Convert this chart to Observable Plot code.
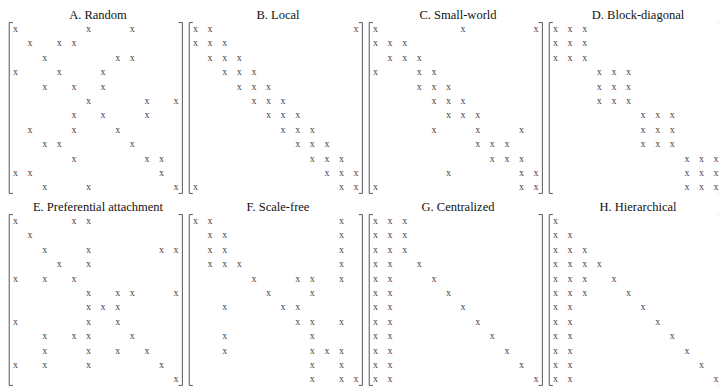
<!DOCTYPE html>
<html>
<head>
<meta charset="utf-8">
<script src="https://cdn.jsdelivr.net/npm/d3@7"></script>
<script src="https://cdn.jsdelivr.net/npm/@observablehq/plot@0.6"></script>
<style>
  html, body { margin: 0; padding: 0; background: #fff; }
  svg { display: block; }
  svg, svg text, svg g { font-family: "Liberation Serif", "Times New Roman", "DejaVu Serif", serif !important; }
</style>
</head>
<body>
<div id="chart"></div>
<script>
// Panel titles
const titles = [
  "A. Random", "B. Local", "C. Small-world", "D. Block-diagonal",
  "E. Preferential attachment", "F. Scale-free", "G. Centralized", "H. Hierarchical"
];

// For each panel: one list per matrix row, giving the columns that hold an "x"
const random = [[0,5,8],[1,3,4],[2,7,8],[0,3,6],[2,4,6],[5,9,11],[4,6,9],[1,4,7],[2,3,8],[4,9,10],[0,1,10],[2,5,11]];
const local = [[0,1,11],[0,1,2],[1,2,3],[2,3,4],[3,4,5],[4,5,6],[5,6,7],[6,7,8],[7,8,9],[8,9,10],[9,10,11],[0,10,11]];
const smallWorld = [[0,6,11],[0,1,2],[1,2,3],[0,3,4],[3,4,5],[4,5,6],[5,6,7],[4,7,10],[7,8,9],[8,9,10],[5,10,11],[0,10,11]];
const blockDiagonal = [[0,1,2],[0,1,2],[0,1,2],[3,4,5],[3,4,5],[3,4,5],[6,7,8],[6,7,8],[6,7,8],[9,10,11],[9,10,11],[9,10,11]];
const preferential = [[0,4,5],[1],[2,5,10,11],[3,5],[0,2,4],[5,7,8,11],[5,6,7],[0,5,7],[2,4,5,8],[2,5,7,9],[0,2,5,10],[11]];
const scaleFree = [[0,1,10],[1,2,10],[1,2,10],[1,2,3,10],[4,7,8,10],[5,8],[2,6,7],[7,8,10],[2,8],[2,8,9,10],[8,10],[8,10,11]];
const centralized = [[0,1,2],[0,1,2],[0,1,2],[0,1,3],[0,1,4],[0,1,5],[0,1,6],[0,1,7],[0,1,8],[0,1,9],[0,1,10],[0,1,11]];
const hierarchical = [[0],[0,1],[0,1,2],[0,1,2,3],[0,1,2,4],[0,1,2,5],[0,1,6],[0,1,7],[0,1,8],[0,1,9],[0,1,10],[0,1,11]];

const panels = [random, local, smallWorld, blockDiagonal, preferential, scaleFree, centralized, hierarchical];
const n = 12;          // matrix size
const pad = 0.43;      // bracket distance from outer cells (in cell units)
const tick = 0.22;     // bracket serif length (in cell units)

// Build one table (so that every mark is faceted the same way)
const items = [];
panels.forEach((rows, p) => {
  const pc = p % 4, pr = Math.floor(p / 4);
  rows.forEach((cols, r) => cols.forEach(c => items.push({type: "cell", pc, pr, x: c, y: r})));
  items.push({type: "title", pc, pr, x: (n - 1) / 2 + 0.15, y: -0.95, text: titles[p]});
  const lo = -pad, hi = n - 1 + pad;
  [[lo + tick, lo], [lo, lo], [lo, hi], [lo + tick, hi]].forEach(([x, y]) =>
    items.push({type: "bracket", id: `L${p}`, pc, pr, x, y}));
  [[hi - tick, lo], [hi, lo], [hi, hi], [hi - tick, hi]].forEach(([x, y]) =>
    items.push({type: "bracket", id: `R${p}`, pc, pr, x, y}));
});

const font = "Liberation Serif";

const chart = Plot.plot({
  width: 719,
  height: 386,
  marginTop: 0, marginRight: 0, marginBottom: 0, marginLeft: 0,
  style: {background: "#fff", fontFamily: font},
  facet: {data: items, x: "pc", y: "pr"},
  fx: {domain: [0, 1, 2, 3], range: [0, 720], padding: 0, axis: null, label: null},
  fy: {domain: [0, 1], range: [0, 384], padding: 0, axis: null, label: null},
  x: {domain: [0, n - 1], range: [15, 175.6], axis: null},
  y: {domain: [0, n - 1], range: [28.3, 186.7], axis: null},
  marks: [
    Plot.line(items, {
      filter: d => d.type === "bracket",
      x: "x", y: "y", z: "id",
      stroke: "#555", strokeWidth: 1, curve: "linear"
    }),
    Plot.text(items, {
      filter: d => d.type === "cell",
      x: "x", y: "y", text: () => "x",
      fontSize: 10, fill: "#444", fontFamily: font
    }),
    Plot.text(items, {
      filter: d => d.type === "title",
      x: "x", y: "y", text: "text",
      fontSize: 12.5, fill: "#111", fontFamily: font
    })
  ]
});

document.getElementById("chart").appendChild(chart);
</script>
</body>
</html>
